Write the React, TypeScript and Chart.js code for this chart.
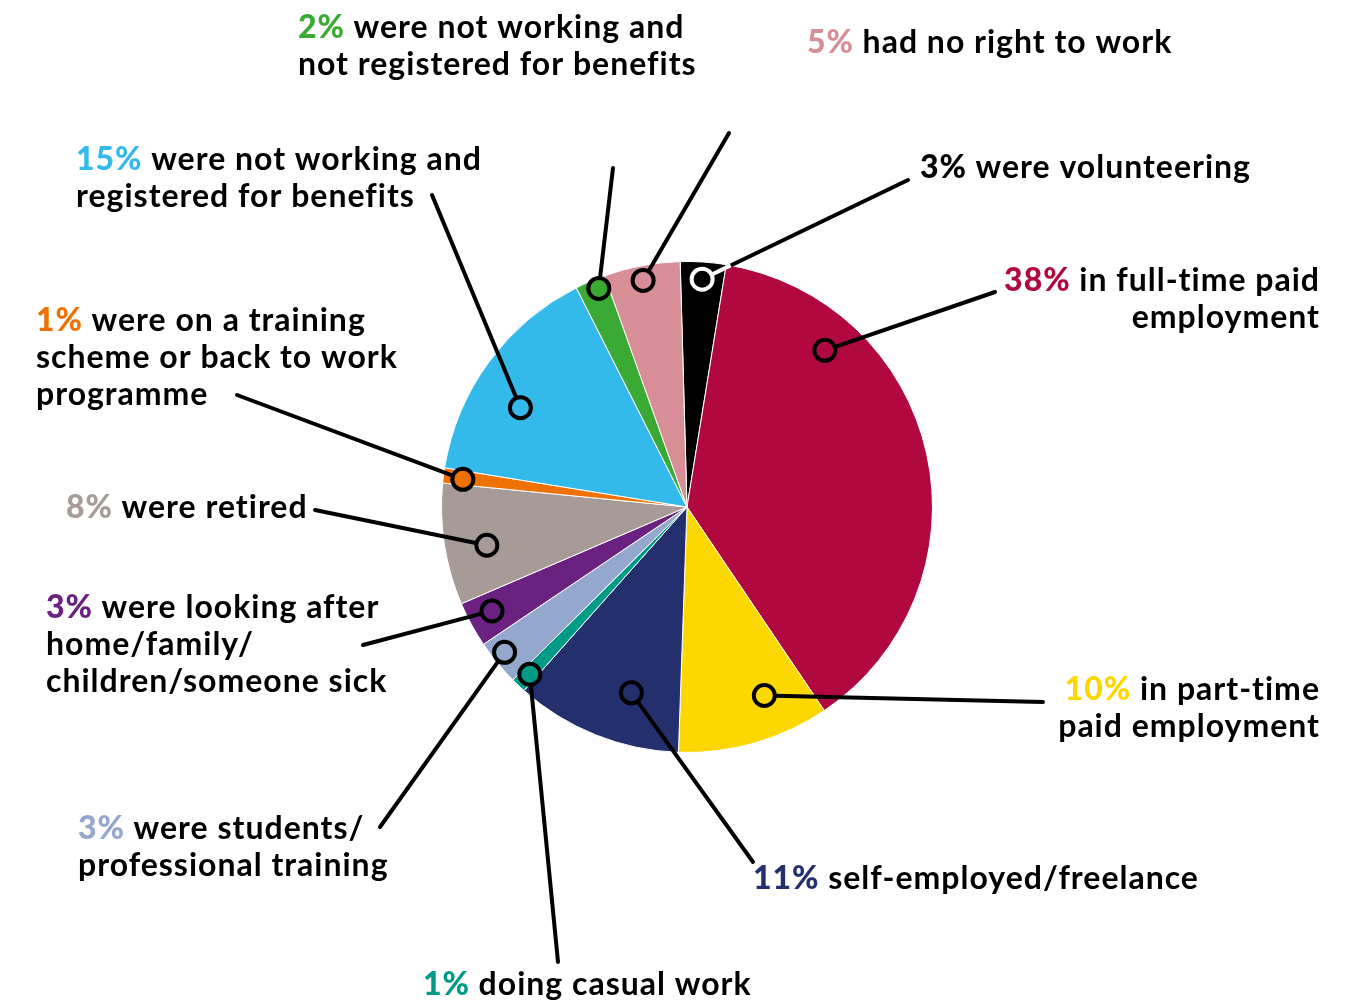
import React, { useEffect, useRef } from "react";
import { Chart, registerables } from "chart.js";

Chart.register(...registerables);

// ---- data ----
const categories = [
  "were volunteering",
  "in full-time paid\nemployment",
  "in part-time\npaid employment",
  "self-employed/freelance",
  "doing casual work",
  "were students/\nprofessional training",
  "were looking after\nhome/family/\nchildren/someone sick",
  "were retired",
  "were on a training\nscheme or back to work\nprogramme",
  "were not working and\nregistered for benefits",
  "were not working and\nnot registered for benefits",
  "had no right to work",
];
const values = [3, 38, 10, 11, 1, 3, 3, 8, 1, 15, 2, 5];
const colors = [
  "#000000",
  "#b1093f",
  "#fdd800",
  "#242f6d",
  "#009b86",
  "#93a8cc",
  "#6a2180",
  "#a79b97",
  "#ef7102",
  "#34b9eb",
  "#3aaa35",
  "#d88e97",
];

// ---- layout (label placement) ----
const labelX = [920, 1320, 1320, 753, 423, 78, 46, 66, 36, 76, 298, 807];
const labelY = [167, 280, 689, 878, 984, 828, 607, 507, 320, 159, 27, 42];
const labelAlign = ["left", "right", "right", "left", "left", "left", "left", "left", "left", "left", "left", "left"];
const leaderEnd = [
  [908, 180], [995, 292], [1043, 702], [753, 862], [558, 962], [380, 827],
  [363, 645], [315, 510], [237, 395], [432, 195], [613, 168], [729, 133],
];
const markerT = [0.5, 0.235, 0.325, 0.37, 0.45, 0.58, 0.55, 0.43, 0.4, 0.4, 0.67, 0.48];
const markerR = [0.93, 0.85, 0.83, 0.79, 0.935, 0.95, 0.9, 0.83, 0.92, 0.79, 0.96, 0.94];

const FONT_FAMILY = "Lato, 'Open Sans', sans-serif";
const FONT_SIZE = 32;
const LETTER_SPACING = "1px";
const LINE_HEIGHT = 37;

const labelPlugin = {
  id: "leaderLabels",
  afterDatasetsDraw(chart: any) {
    const ctx: any = chart.ctx;
    const meta = chart.getDatasetMeta(0);
    ctx.save();
    meta.data.forEach((arc: any, i: number) => {
      const cx = arc.x, cy = arc.y, R = arc.outerRadius;
      const a = arc.startAngle + markerT[i] * (arc.endAngle - arc.startAngle);
      const mx = cx + markerR[i] * R * Math.cos(a);
      const my = cy + markerR[i] * R * Math.sin(a);
      const [ex, ey] = leaderEnd[i];
      const stroke = colors[i] === "#000000" ? "#ffffff" : "#000000";

      ctx.lineCap = "round";
      ctx.lineWidth = 4;
      ctx.strokeStyle = "#000000";
      ctx.beginPath();
      ctx.moveTo(ex, ey);
      ctx.lineTo(mx, my);
      ctx.stroke();
      if (stroke !== "#000000") {
        const dx = ex - mx, dy = ey - my;
        const fx = mx - cx, fy = my - cy;
        const A = dx * dx + dy * dy;
        const B = 2 * (fx * dx + fy * dy);
        const C = fx * fx + fy * fy - R * R;
        const t = (-B + Math.sqrt(B * B - 4 * A * C)) / (2 * A);
        ctx.strokeStyle = stroke;
        ctx.lineCap = "butt";
        ctx.beginPath();
        ctx.moveTo(mx, my);
        ctx.lineTo(mx + dx * t, my + dy * t);
        ctx.stroke();
      }
      ctx.beginPath();
      ctx.arc(mx, my, 10.5, 0, Math.PI * 2);
      ctx.fillStyle = colors[i];
      ctx.fill();
      ctx.lineWidth = 4;
      ctx.strokeStyle = stroke;
      ctx.stroke();

      const lines = categories[i].split("\n");
      const pct = `${values[i]}%`;
      ctx.textBaseline = "middle";
      ctx.letterSpacing = LETTER_SPACING;
      lines.forEach((line, li) => {
        const y = labelY[i] + li * LINE_HEIGHT + 1;
        const boldFont = `900 ${FONT_SIZE}px ${FONT_FAMILY}`;
        const normFont = `700 ${FONT_SIZE}px ${FONT_FAMILY}`;
        ctx.textAlign = "left";
        if (li === 0) {
          ctx.font = boldFont;
          const pw = ctx.measureText(pct + " ").width;
          ctx.font = normFont;
          const tw = ctx.measureText(line).width;
          const total = pw + tw;
          const x0 = labelAlign[i] === "right" ? labelX[i] - total : labelX[i];
          ctx.font = boldFont;
          ctx.fillStyle = colors[i];
          ctx.fillText(pct, x0, y);
          ctx.font = normFont;
          ctx.fillStyle = "#000000";
          ctx.fillText(line, x0 + pw, y);
        } else {
          ctx.font = normFont;
          const tw = ctx.measureText(line).width;
          const x0 = labelAlign[i] === "right" ? labelX[i] - tw : labelX[i];
          ctx.fillStyle = "#000000";
          ctx.fillText(line, x0, y);
        }
      });
    });
    ctx.restore();
  },
};

export default function App() {
  const ref = useRef<HTMLCanvasElement | null>(null);
  useEffect(() => {
    if (!ref.current) return;
    const chart = new Chart(ref.current, {
      type: "pie",
      data: {
        labels: categories.map((c) => c.replace(/\n/g, " ")),
        datasets: [
          {
            data: values,
            backgroundColor: colors,
            borderColor: "#ffffff",
            borderWidth: 1,
          },
        ],
      },
      options: {
        responsive: false,
        animation: false,
        rotation: -1.6,
        layout: { padding: { left: 441, right: 423, top: 261, bottom: 248 } },
        plugins: { legend: { display: false }, tooltip: { enabled: false } },
      },
      plugins: [labelPlugin],
    });
    return () => chart.destroy();
  }, []);
  return (
    <div style={{ position: "absolute", left: 0, top: 0, width: 1356, height: 1001, background: "#fff" }}>
      <canvas ref={ref} width={1356} height={1001} />
    </div>
  );
}
